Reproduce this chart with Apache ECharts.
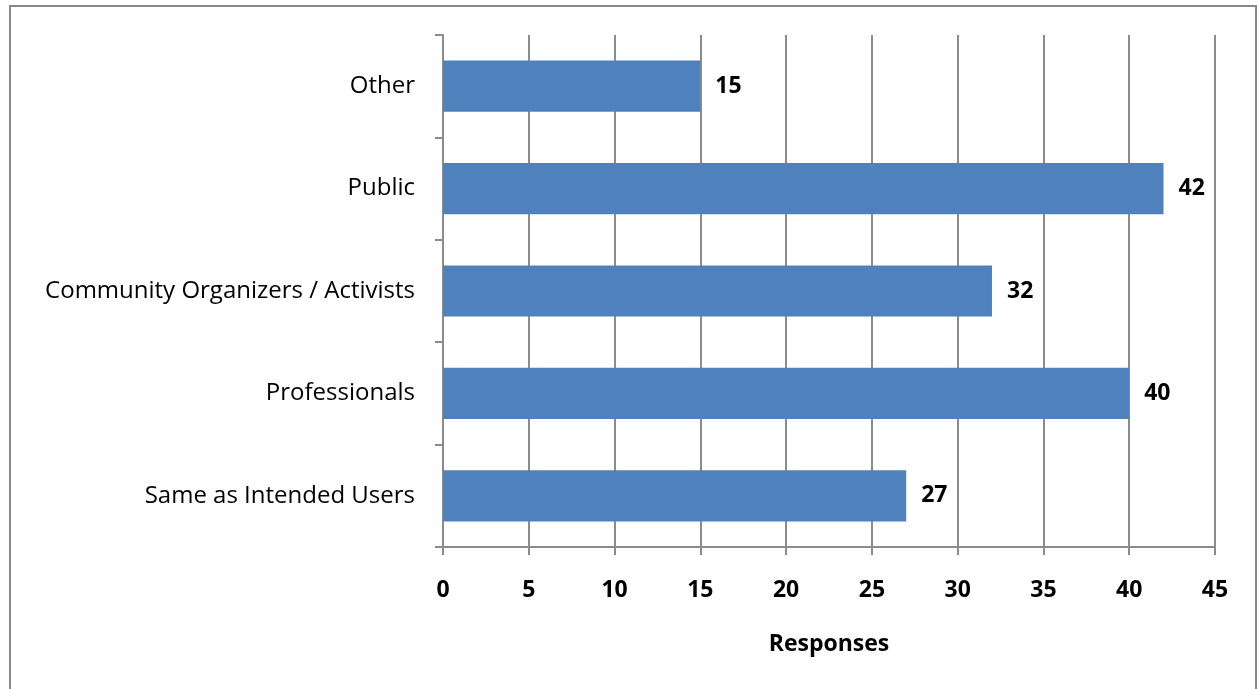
<!DOCTYPE html>
<html>
<head>
<meta charset="utf-8">
<script src="https://cdn.jsdelivr.net/npm/echarts@6/dist/echarts.min.js"></script>
<style>
  html, body { margin: 0; padding: 0; background: #fff; }
  #chart { width: 1258px; height: 689px; }
</style>
</head>
<body>
<div id="chart"></div>
<script>
// Categories listed bottom to top (category axis starts at the bottom)
const categories = ['Same as Intended Users', 'Professionals', 'Community Organizers / Activists', 'Public', 'Other'];
const responses = [27, 40, 32, 42, 15];
const xTicks = { min: 0, max: 45, interval: 5 };

const FONT = '"Open Sans", Lato, "Noto Sans", sans-serif';
const GRID_GRAY = '#8c8c8c';

const chart = echarts.init(document.getElementById('chart'), null, { renderer: 'canvas' });

chart.setOption({
  backgroundColor: '#ffffff',
  animation: false,
  graphic: [{
    type: 'rect',
    shape: { x: 10, y: 6, width: 1246, height: 720 },
    style: { fill: 'none', stroke: '#888888', lineWidth: 2 },
    silent: true
  }],
  grid: { left: 443, right: 43, top: 35, bottom: 142, containLabel: false },
  xAxis: {
    type: 'value',
    min: xTicks.min,
    max: xTicks.max,
    interval: xTicks.interval,
    name: 'Responses',
    nameLocation: 'middle',
    nameGap: 86,
    nameTextStyle: { fontFamily: FONT, fontWeight: 'bold', fontSize: 23, color: '#000' },
    axisLine: { show: true, lineStyle: { color: GRID_GRAY, width: 2 } },
    axisTick: { show: true, length: 8, lineStyle: { color: GRID_GRAY, width: 2 } },
    axisLabel: { margin: 32, fontFamily: FONT, fontWeight: 'bold', fontSize: 23, color: '#000' },
    splitLine: { show: true, lineStyle: { color: GRID_GRAY, width: 2 } }
  },
  yAxis: {
    type: 'category',
    data: categories,
    axisLine: { show: true, lineStyle: { color: GRID_GRAY, width: 2 } },
    axisTick: { show: true, length: 8, alignWithLabel: false, lineStyle: { color: GRID_GRAY, width: 2 } },
    axisLabel: { margin: 28, fontFamily: FONT, fontSize: 24, color: '#000' },
    splitLine: { show: false }
  },
  series: [{
    type: 'bar',
    data: responses,
    barWidth: '50%',
    itemStyle: { color: '#4f81bd' },
    label: {
      show: true,
      position: 'right',
      distance: 15,
      fontFamily: FONT,
      fontWeight: 'bold',
      fontSize: 23,
      color: '#000'
    }
  }]
});
</script>
</body>
</html>
